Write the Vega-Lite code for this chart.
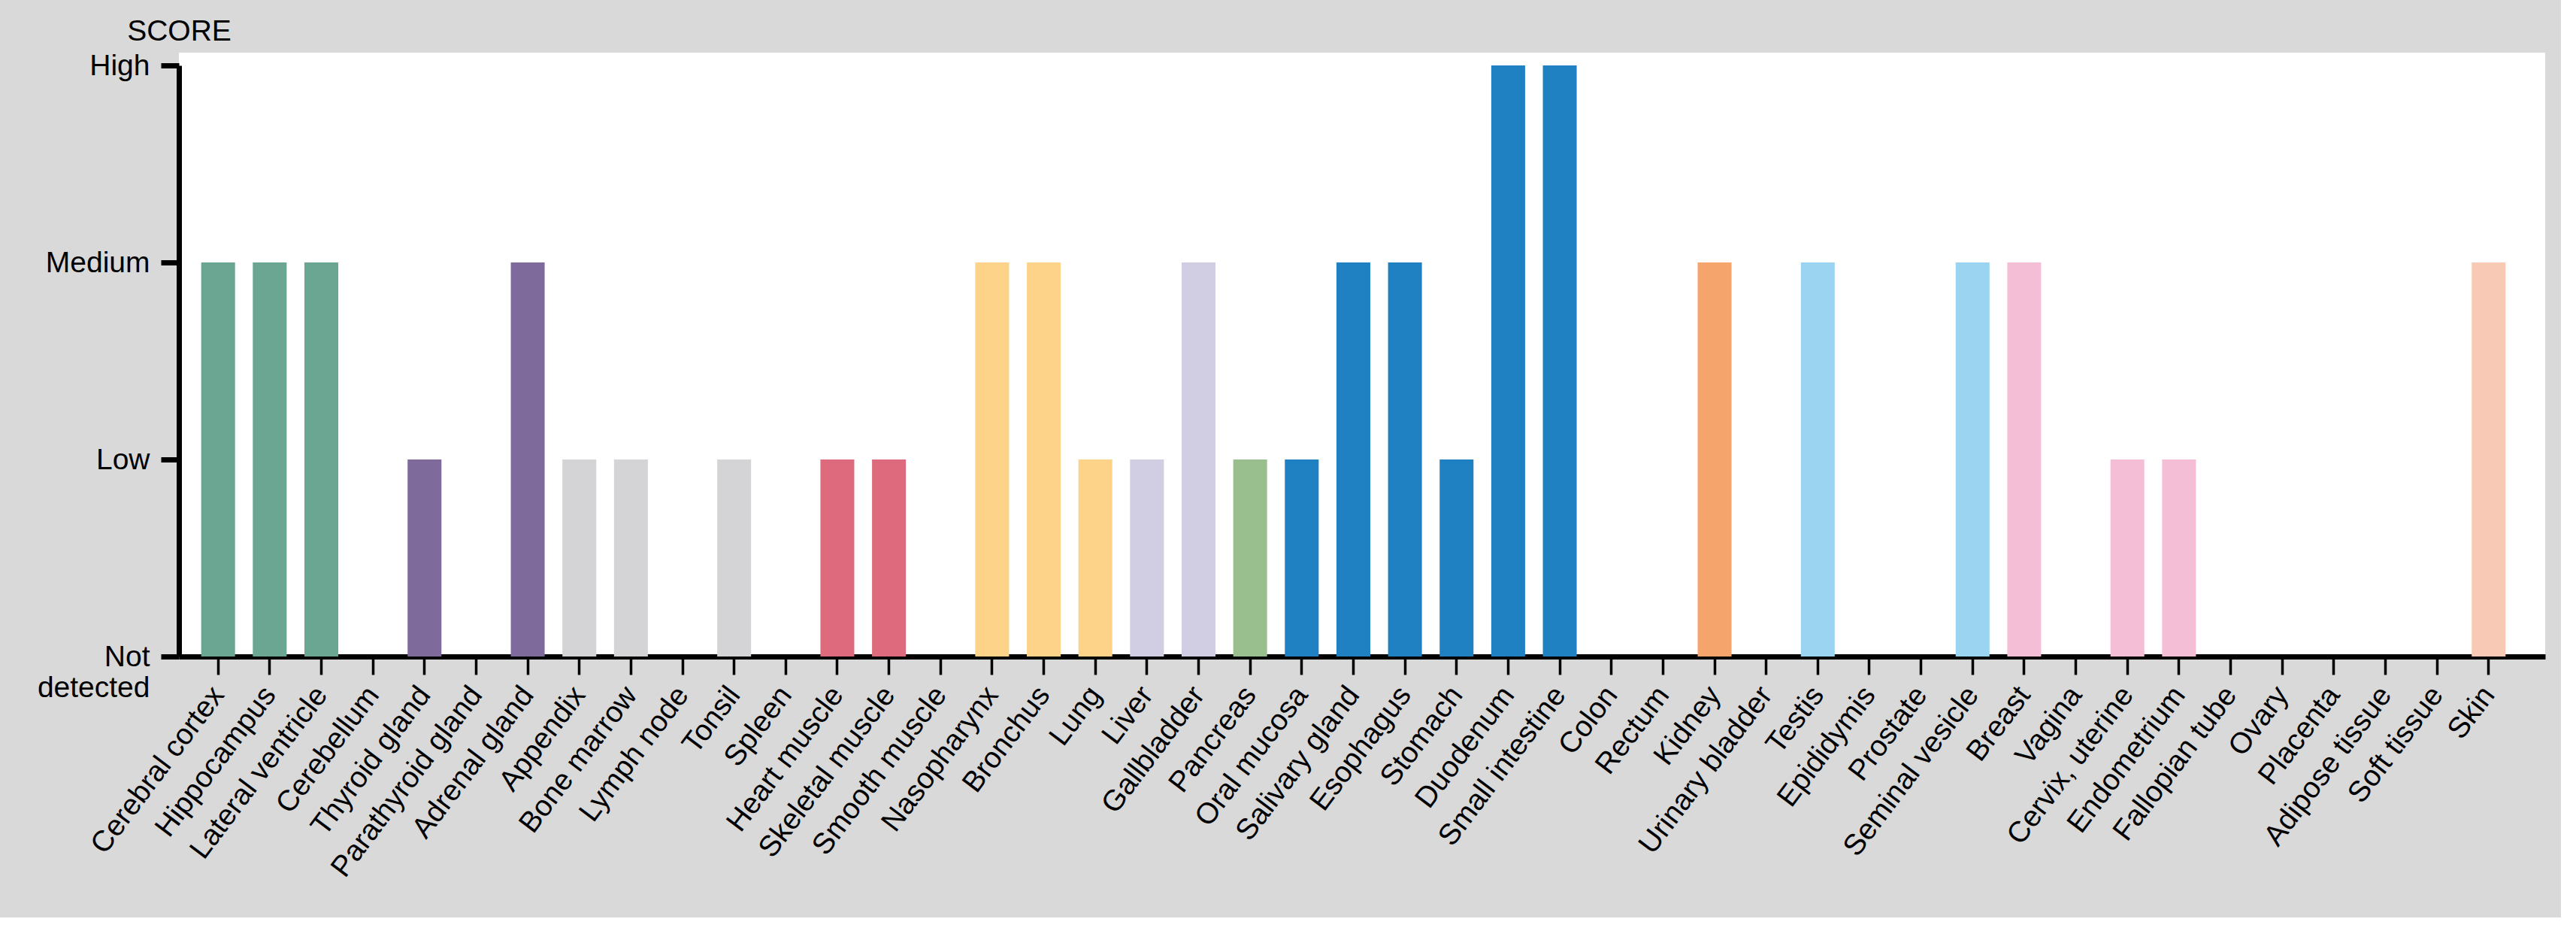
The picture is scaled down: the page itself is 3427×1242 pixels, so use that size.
{
  "$schema": "https://vega.github.io/schema/vega-lite/v6.json",
  "autosize": {"type": "none"},
  "padding": {"left": 238, "top": 70, "right": 21, "bottom": 347},
  "width": 3148,
  "height": 803,
  "background": "#d9d9d9",
  "data": {
    "values": [
      {"tissue": "Cerebral cortex", "group": "Brain", "score": 2},
      {"tissue": "Hippocampus", "group": "Brain", "score": 2},
      {"tissue": "Lateral ventricle", "group": "Brain", "score": 2},
      {"tissue": "Cerebellum", "group": "Brain", "score": 0},
      {"tissue": "Thyroid gland", "group": "Endocrine tissues", "score": 1},
      {"tissue": "Parathyroid gland", "group": "Endocrine tissues", "score": 0},
      {"tissue": "Adrenal gland", "group": "Endocrine tissues", "score": 2},
      {"tissue": "Appendix", "group": "Bone marrow & lymphoid tissues", "score": 1},
      {"tissue": "Bone marrow", "group": "Bone marrow & lymphoid tissues", "score": 1},
      {"tissue": "Lymph node", "group": "Bone marrow & lymphoid tissues", "score": 0},
      {"tissue": "Tonsil", "group": "Bone marrow & lymphoid tissues", "score": 1},
      {"tissue": "Spleen", "group": "Bone marrow & lymphoid tissues", "score": 0},
      {"tissue": "Heart muscle", "group": "Muscle tissues", "score": 1},
      {"tissue": "Skeletal muscle", "group": "Muscle tissues", "score": 1},
      {"tissue": "Smooth muscle", "group": "Muscle tissues", "score": 0},
      {"tissue": "Nasopharynx", "group": "Lung", "score": 2},
      {"tissue": "Bronchus", "group": "Lung", "score": 2},
      {"tissue": "Lung", "group": "Lung", "score": 1},
      {"tissue": "Liver", "group": "Liver & gallbladder", "score": 1},
      {"tissue": "Gallbladder", "group": "Liver & gallbladder", "score": 2},
      {"tissue": "Pancreas", "group": "Pancreas", "score": 1},
      {"tissue": "Oral mucosa", "group": "Gastrointestinal tract", "score": 1},
      {"tissue": "Salivary gland", "group": "Gastrointestinal tract", "score": 2},
      {"tissue": "Esophagus", "group": "Gastrointestinal tract", "score": 2},
      {"tissue": "Stomach", "group": "Gastrointestinal tract", "score": 1},
      {"tissue": "Duodenum", "group": "Gastrointestinal tract", "score": 3},
      {"tissue": "Small intestine", "group": "Gastrointestinal tract", "score": 3},
      {"tissue": "Colon", "group": "Gastrointestinal tract", "score": 0},
      {"tissue": "Rectum", "group": "Gastrointestinal tract", "score": 0},
      {"tissue": "Kidney", "group": "Kidney & urinary bladder", "score": 2},
      {"tissue": "Urinary bladder", "group": "Kidney & urinary bladder", "score": 0},
      {"tissue": "Testis", "group": "Male tissues", "score": 2},
      {"tissue": "Epididymis", "group": "Male tissues", "score": 0},
      {"tissue": "Prostate", "group": "Male tissues", "score": 0},
      {"tissue": "Seminal vesicle", "group": "Male tissues", "score": 2},
      {"tissue": "Breast", "group": "Female tissues", "score": 2},
      {"tissue": "Vagina", "group": "Female tissues", "score": 0},
      {"tissue": "Cervix, uterine", "group": "Female tissues", "score": 1},
      {"tissue": "Endometrium", "group": "Female tissues", "score": 1},
      {"tissue": "Fallopian tube", "group": "Female tissues", "score": 0},
      {"tissue": "Ovary", "group": "Female tissues", "score": 0},
      {"tissue": "Placenta", "group": "Female tissues", "score": 0},
      {"tissue": "Adipose tissue", "group": "Adipose & soft tissue", "score": 0},
      {"tissue": "Soft tissue", "group": "Adipose & soft tissue", "score": 0},
      {"tissue": "Skin", "group": "Skin", "score": 2}
    ]
  },
  "mark": {"type": "bar"},
  "encoding": {
    "x": {
      "field": "tissue",
      "type": "nominal",
      "sort": null,
      "scale": {"paddingInner": 0.344, "paddingOuter": 0.6, "align": 0.36},
      "axis": {
        "title": null,
        "labelAngle": -53,
        "labelAlign": "right",
        "labelBaseline": "middle",
        "labelPadding": 20,
        "labelLimit": 1000,
        "tickSize": 24,
        "tickWidth": 3.5
      }
    },
    "y": {
      "field": "score",
      "type": "quantitative",
      "scale": {"domain": [0, 3], "range": [803, 17], "nice": false, "zero": true},
      "axis": {
        "title": "SCORE",
        "titleAngle": 0,
        "titleX": 0,
        "titleY": -29,
        "titleAlign": "center",
        "titleBaseline": "middle",
        "values": [0, 1, 2, 3],
        "labelExpr": "datum.value == 3 ? 'High' : datum.value == 2 ? 'Medium' : datum.value == 1 ? 'Low' : ['Not', 'detected']",
        "labelLineHeight": 41,
        "labelPadding": 15,
        "tickSize": 24,
        "tickWidth": 7,
        "grid": false
      }
    },
    "color": {
      "field": "group",
      "type": "nominal",
      "legend": null,
      "scale": {
        "domain": ["Brain", "Endocrine tissues", "Bone marrow & lymphoid tissues", "Muscle tissues", "Lung", "Liver & gallbladder", "Pancreas", "Gastrointestinal tract", "Kidney & urinary bladder", "Male tissues", "Female tissues", "Adipose & soft tissue", "Skin"],
        "range": ["#6aa692", "#7f6b9b", "#d4d4d6", "#dd6b7d", "#fdd38a", "#d1cde3", "#9abf8e", "#1f80c2", "#f5a46b", "#9bd4f1", "#f4bed7", "#c9b79c", "#f8c9b4"]
      }
    }
  },
  "config": {
    "view": {"fill": "white", "stroke": null},
    "font": "Liberation Sans",
    "axis": {
      "labelFont": "Liberation Sans",
      "labelFontSize": 39,
      "labelColor": "black",
      "titleFont": "Liberation Sans",
      "titleFontSize": 39,
      "titleFontWeight": "normal",
      "titleColor": "black",
      "domainColor": "black",
      "domainWidth": 7,
      "tickColor": "black"
    }
  }
}
